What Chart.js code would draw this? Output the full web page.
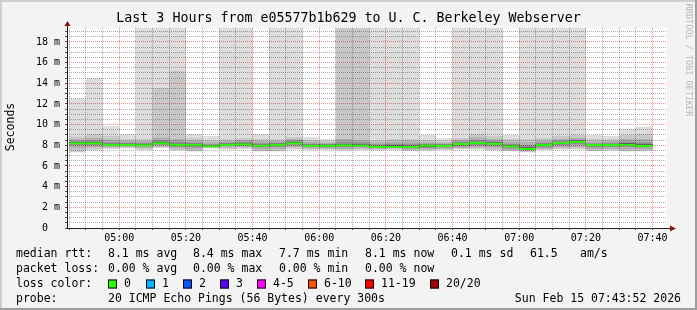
<!DOCTYPE html>
<html>
<head>
<meta charset="utf-8">
<title>smokeping</title>
<script src="https://cdn.jsdelivr.net/npm/chart.js@4.4.1/dist/chart.umd.min.js"></script>
<style>
html,body{margin:0;padding:0;background:#f3f3f3;}
canvas{display:block;}
</style>
</head>
<body>
<canvas id="chart" width="697" height="310"></canvas>
<script>

/* -------- DATA (ms, 5 min steps) -------- */

const slots = ["04:45","04:50","04:55","05:00","05:05","05:10","05:15","05:20","05:25","05:30",
"05:35","05:40","05:45","05:50","05:55","06:00","06:05","06:10","06:15","06:20",
"06:25","06:30","06:35","06:40","06:45","06:50","06:55","07:00","07:05","07:10",
"07:15","07:20","07:25","07:30","07:35"];

const pingMax = [12.5,14.5,9.85,9.1,27,31,24,9.1,8.9,38,22,9.1,26,33,8.8,8.6,45,41,29,21,25,9.0,8.7,36,23,28,9.0,30,24,20.5,27,9.0,8.9,9.6,9.8];
const ping19 = [8.85,9.1,8.9,8.6,8.6,13.5,15.2,8.7,8.5,8.6,8.7,8.6,8.6,8.8,8.5,8.4,30,26,8.5,8.6,8.6,8.5,8.4,8.7,9.1,8.9,8.6,8.6,8.7,8.9,9.0,8.6,8.6,9.0,9.1];
const ping17 = [8.6,8.7,8.55,8.4,8.4,8.75,8.6,8.45,8.3,8.4,8.5,8.4,8.4,8.6,8.35,8.25,8.6,8.5,8.3,8.35,8.4,8.3,8.25,8.5,8.75,8.6,8.35,8.3,8.45,8.6,8.7,8.35,8.4,8.6,8.6];
const ping13 = [8.4,8.45,8.3,8.25,8.25,8.5,8.35,8.25,8.1,8.25,8.35,8.2,8.25,8.45,8.15,8.15,8.35,8.3,8.1,8.15,8.15,8.15,8.1,8.35,8.5,8.4,8.15,8.0,8.25,8.45,8.55,8.2,8.25,8.35,8.3];
const ping11 = [8.3,8.3,8.15,8.15,8.1,8.3,8.15,8.15,8.0,8.15,8.2,8.05,8.15,8.3,8.05,8.05,8.1,8.1,7.95,8.0,7.95,8.05,8.05,8.23,8.32,8.26,8.0,7.8,8.13,8.32,8.45,8.13,8.13,8.2,8.1];
const ping10 = [8.15,8.15,8.05,8.05,8.0,8.2,8.0,7.95,7.9,8.05,8.05,7.9,8.0,8.15,7.95,7.9,7.95,8.0,7.85,7.9,7.8,7.85,7.9,8.05,8.15,8.1,7.85,7.65,7.95,8.15,8.3,7.95,8.0,8.0,7.95];
const ping8 = [8.0,8.0,7.95,7.95,7.9,8.05,7.85,7.8,7.85,7.95,7.95,7.8,7.85,8.0,7.85,7.8,7.8,7.85,7.75,7.8,7.7,7.75,7.8,7.9,8.0,7.95,7.7,7.55,7.8,8.0,8.1,7.8,7.85,7.85,7.8];
const ping4 = [7.7,7.8,7.8,7.85,7.75,7.9,7.7,7.6,7.8,7.8,7.85,7.6,7.65,7.85,7.7,7.7,7.65,7.7,7.65,7.7,7.6,7.6,7.65,7.75,7.8,7.75,7.55,7.45,7.65,7.8,7.85,7.6,7.65,7.6,7.6];
const ping2 = [7.4,7.6,7.7,7.75,7.6,7.8,7.55,7.45,7.72,7.65,7.7,7.45,7.45,7.65,7.6,7.6,7.55,7.6,7.55,7.6,7.5,7.55,7.58,7.65,7.65,7.55,7.48,7.35,7.58,7.65,7.65,7.5,7.55,7.45,7.5];
const pingMin = [7.3,7.5,7.65,7.7,7.55,7.75,7.5,7.4,7.7,7.6,7.65,7.4,7.4,7.6,7.55,7.55,7.5,7.55,7.5,7.55,7.45,7.5,7.55,7.6,7.6,7.5,7.45,7.3,7.55,7.6,7.6,7.45,7.5,7.4,7.45];
const median = [8.3,8.3,8.15,8.15,8.1,8.3,8.15,8.15,8.0,8.15,8.2,8.05,8.15,8.3,8.05,8.05,8.1,8.07,7.95,7.95,7.93,8.07,8.03,8.23,8.32,8.26,8.0,7.74,8.13,8.32,8.45,8.13,8.13,8.16,8.04];

const yTicks = [0,2,4,6,8,10,12,14,16,18];
const xTicks = ["05:00","05:20","05:40","06:00","06:20","06:40","07:00","07:20","07:40"];

const rttStats = ["8.1 ms avg","8.4 ms max","7.7 ms min","8.1 ms now","0.1 ms sd","61.5","am/s"];
const lossStats = ["0.00 % avg","0.00 % max","0.00 % min","0.00 % now"];
const lossLabels = ["0","1","2","3","4-5","6-10","11-19","20/20"];
const lossColors = ["#26ff00","#00b8ff","#0059ff","#5e00ff","#ff00ff","#ff5500","#ff0000","#a00000"];

const title = "Last 3 Hours from e05577b1b629 to U. C. Berkeley Webserver";
const probe = "20 ICMP Echo Pings (56 Bytes) every 300s";
const stamp = "Sun Feb 15 07:43:52 2026";

const windowStart = "04:44:20";
const windowEnd = "07:44:20";


/* -------- HELPERS -------- */

function mins(s){
const p = s.split(":").map(Number);
return p[0]*60 + p[1] + (p[2]||0)/60;
}

function hhmm(v){
const h = Math.floor(v/60), m = Math.round(v%60);
return String(h).padStart(2,"0")+":"+String(m).padStart(2,"0");
}

function band(lo, hi){
return slots.map((s,i)=>({x: mins(s)+2.5, y:[lo[i], hi[i]]}));
}

function smoke(lo, hi, alpha){
return {
order: 1,
data: band(lo, hi),
backgroundColor: "rgba(0,0,0,"+alpha+")",
borderWidth: 0,
grouped: false,
inflateAmount: 0,
barPercentage: 1,
categoryPercentage: 1
};
}


/* -------- DECORATION -------- */

const MONO = "'DejaVu Sans Mono', monospace";

const frame = {
id: "frame",
beforeDraw(c){
const g = c.ctx, a = c.chartArea;
g.save();
g.fillStyle = "#f3f3f3";
g.fillRect(0,0,c.width,c.height);
g.fillStyle = "#ffffff";
g.fillRect(a.left, a.top, a.right-a.left, a.bottom-a.top);
g.restore();
},
afterDraw(c){
const g = c.ctx, a = c.chartArea, W = c.width, H = c.height;
g.save();

// 3d border
g.fillStyle = "#cfcfcf";
g.fillRect(0,0,W,2);
g.fillRect(0,0,2,H);
g.fillStyle = "#9e9e9e";
g.fillRect(0,H-2,W,2);
g.fillRect(W-2,0,2,H);

// axes + arrows
g.strokeStyle = "#202020";
g.lineWidth = 1;
g.beginPath();
g.moveTo(a.left+0.5, a.bottom);
g.lineTo(a.left+0.5, a.top-3);
g.moveTo(a.left, a.bottom+0.5);
g.lineTo(a.right+4, a.bottom+0.5);
g.stroke();
g.fillStyle = "#8b1010";
g.beginPath();
g.moveTo(a.left-2.5, a.top-2);
g.lineTo(a.left+3.5, a.top-2);
g.lineTo(a.left+0.5, a.top-7);
g.closePath();
g.fill();
g.beginPath();
g.moveTo(a.right+3, a.bottom-2.5);
g.lineTo(a.right+3, a.bottom+3.5);
g.lineTo(a.right+9, a.bottom+0.5);
g.closePath();
g.fill();

g.fillStyle = "#000";
g.textBaseline = "middle";

// title
g.font = "13.3px "+MONO;
g.textAlign = "center";
g.fillText(title, W/2, 19);

// y axis title
g.font = "11.5px "+MONO;
g.save();
g.translate(11, 127);
g.rotate(-Math.PI/2);
g.fillText("Seconds", 0, 0);
g.restore();

// watermark
g.save();
g.font = "8.5px "+MONO;
g.fillStyle = "#b8b8b8";
g.translate(688, 60);
g.rotate(Math.PI/2);
g.fillText("RRDTOOL / TOBI OETIKER", 0, 0);
g.restore();

// legend
g.font = "11.5px "+MONO;
g.textAlign = "left";
const rows = [254, 269, 284, 299];
const cols = [108, 193, 279, 365, 451, 530, 580];

g.fillText("median rtt:", 16, rows[0]);
rttStats.forEach((t,i)=> g.fillText(t, cols[i], rows[0]));

g.fillText("packet loss:", 16, rows[1]);
lossStats.forEach((t,i)=> g.fillText(t, cols[i], rows[1]));

g.fillText("loss color:", 16, rows[2]);
const boxX = [108, 146, 183, 220, 257, 308, 365, 430];
lossLabels.forEach((t,i)=>{
g.fillStyle = lossColors[i];
g.fillRect(boxX[i], rows[2]-4.5, 9, 9);
g.strokeStyle = "#000";
g.strokeRect(boxX[i]+0.5, rows[2]-4, 8, 8);
g.fillStyle = "#000";
g.fillText(t, boxX[i]+16, rows[2]);
});

g.fillText("probe:", 16, rows[3]);
g.fillText(probe, 108, rows[3]);
g.textAlign = "right";
g.fillText(stamp, 681, rows[3]);

g.restore();
}
};


/* -------- CHART -------- */

const MAJOR = "rgba(230,50,50,0.55)";
const MINOR = "rgba(110,110,110,0.55)";

function isMajorX(c){ return c.tick && xTicks.includes(hhmm(c.tick.value)); }
function isMajorY(c){ return c.tick && yTicks.includes(c.tick.value); }

const ctx = document.getElementById("chart");

const chart = new Chart(ctx,{

type:"bar",

data:{
datasets:[
{
// median, drawn on top of the smoke
order: 0,
data: slots.map((s,i)=>({x: mins(s)+2.5, y: median[i]})),
backgroundColor: "rgba(0,0,0,0)",
borderColor: lossColors[0],
borderWidth: {top:2, right:0, bottom:0, left:0},
borderSkipped: false,
grouped: false,
inflateAmount: 0,
barPercentage: 1,
categoryPercentage: 1
},
smoke(pingMin, pingMax, 0.135),
smoke(ping2, ping19, 0.093),
smoke(ping4, ping17, 0.12),
smoke(ping8, ping13, 0.18),
smoke(ping10, ping11, 0.42)
]
},

options:{
responsive:false,
animation:false,
events:[],
layout:{ padding:{left:0, top:28, right:30, bottom:62} },
plugins:{ legend:{display:false}, tooltip:{enabled:false}, title:{display:false} },
scales:{
x:{
type:"linear",
offset:false,
min: mins(windowStart),
max: mins(windowEnd),
afterFit(s){ s.height = 20; },
afterBuildTicks(s){ s.ticks = slots.concat(["07:40"]).map(t=>({value: mins(t)})); },
border:{ display:false, dash:[1,1] },
grid:{
offset:false,
color: c => isMajorX(c) ? MAJOR : MINOR,
tickColor:"#555",
tickLength:2
},
ticks:{
autoSkip:false,
maxRotation:0,
padding:2,
color:"#000",
font:{family:MONO, size:10},
callback: v => xTicks.includes(hhmm(v)) ? hhmm(v) : ""
}
},
y:{
min:0,
max:19.35,
afterFit(s){ s.width = 67; },
border:{ display:false, dash:[1,1] },
grid:{
color: c => isMajorY(c) ? MAJOR : MINOR,
tickColor:"#555",
tickLength:2
},
ticks:{
stepSize:0.5,
includeBounds:false,
autoSkip:false,
padding:5,
color:"#000",
font:{family:MONO, size:10},
callback: v => yTicks.includes(v) ? (v===0 ? "0  " : v+" m") : ""
}
}
}
},

plugins:[frame]

});

</script>
</body>
</html>
